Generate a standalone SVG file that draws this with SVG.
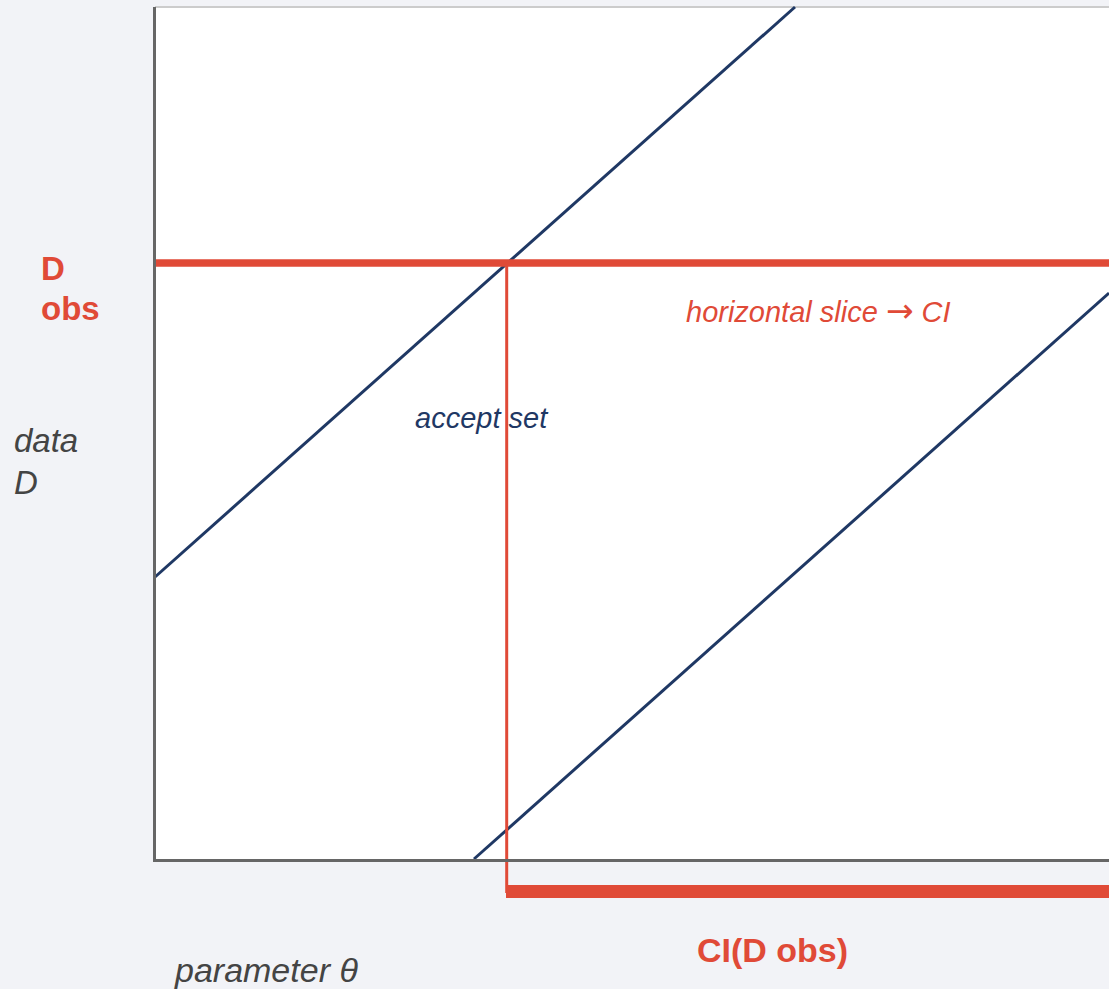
<svg xmlns="http://www.w3.org/2000/svg" width="1109" height="989" viewBox="0 0 1109 989">
  <style>
    .axis { stroke: #666666; stroke-width: 3; fill: none; }
    .band { stroke: #1f3864; stroke-width: 3; fill: none; }
    .red { stroke: #e04a37; fill: none; }
    .lbl { font-family: "Liberation Sans", Arial, sans-serif; }
    .it { font-style: italic; }
    .bold { font-weight: bold; }
  </style>
  <rect x="0" y="0" width="1109" height="989" fill="#f2f3f7"/>
  <g id="plot-area">
    <rect x="155" y="7" width="960" height="853" fill="#ffffff"/>
    <line x1="155" y1="7" x2="1109" y2="7" stroke="#cccccc" stroke-width="2"/>
  </g>
  <g id="connectors">
    <line class="band" x1="155" y1="577" x2="795" y2="7"/>
    <line class="band" x1="474" y1="859" x2="1109" y2="293"/>
    <line class="red" stroke-width="7.5" x1="155" y1="263" x2="1109" y2="263"/>
    <line class="red" stroke-width="3" x1="506.7" y1="263" x2="506.7" y2="893"/>
    <line class="red" stroke-width="13" x1="506" y1="891.5" x2="1109" y2="891.5"/>
  </g>
  <g id="axes">
    <line class="axis" x1="154.5" y1="7" x2="154.5" y2="862"/>
    <line class="axis" x1="153" y1="860.5" x2="1109" y2="860.5"/>
  </g>
  <g id="label-dobs">
    <text class="lbl bold" x="41" y="280" font-size="33" fill="#e04a37">D</text>
    <text class="lbl bold" x="41" y="320" font-size="33" fill="#e04a37">obs</text>
  </g>
  <g id="label-data">
    <text class="lbl it" x="14" y="452" font-size="33" fill="#444444">data</text>
    <text class="lbl it" x="14" y="494" font-size="33" fill="#444444">D</text>
  </g>
  <g id="label-accept">
    <text class="lbl it" x="415" y="428" font-size="29" fill="#1f3864">accept set</text>
  </g>
  <g id="label-slice">
    <text class="lbl it" x="686" y="322" font-size="29" fill="#e04a37">horizontal slice <tspan font-family="'DejaVu Sans', sans-serif" font-style="normal" font-size="33">→</tspan> CI</text>
  </g>
  <g id="label-ci">
    <text class="lbl bold" x="697" y="962" font-size="34" fill="#e04a37">CI(D obs)</text>
  </g>
  <g id="label-param">
    <text class="lbl it" x="175" y="982" font-size="34" fill="#444444">parameter θ</text>
  </g>
</svg>
